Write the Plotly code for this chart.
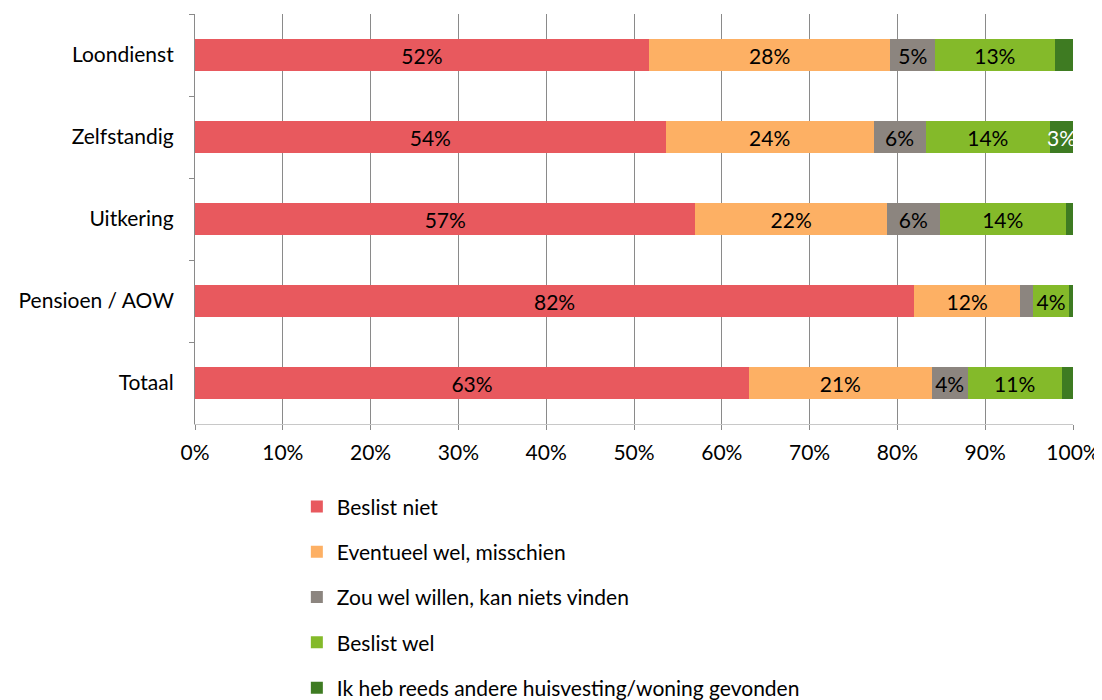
import plotly.graph_objects as go

categories = ["Loondienst", "Zelfstandig", "Uitkering", "Pensioen / AOW", "Totaal"]
series_names = [
    "Beslist niet",
    "Eventueel wel, misschien",
    "Zou wel willen, kan niets vinden",
    "Beslist wel",
    "Ik heb reeds andere huisvesting/woning gevonden",
]
beslist_niet = [51.7, 53.6, 57.0, 81.9, 63.1]
eventueel = [27.5, 23.7, 21.8, 12.1, 20.8]
zou_wel = [5.1, 5.9, 6.0, 1.5, 4.1]
beslist_wel = [13.6, 14.2, 14.4, 4.0, 10.7]
gevonden = [2.1, 2.6, 0.8, 0.5, 1.3]

# labels shown in the bars (blank where the chart shows none)
labels = [
    ["52%", "54%", "57%", "82%", "63%"],
    ["28%", "24%", "22%", "12%", "21%"],
    ["5%", "6%", "6%", "", "4%"],
    ["13%", "14%", "14%", "4%", "11%"],
    ["", "3%", "", "", ""],
]
colors = ["#E8595E", "#FDB064", "#8C857F", "#84BA2A", "#3E7B22"]
label_colors = ["black", "black", "black", "black", "white"]

FS = 21

fig = go.Figure()
for i, (name, vals) in enumerate(zip(series_names,
        [beslist_niet, eventueel, zou_wel, beslist_wel, gevonden])):
    fig.add_trace(go.Bar(
        y=categories, x=vals, name=name, orientation="h",
        marker=dict(color=colors[i], line=dict(width=0)),
        text=labels[i], textposition="inside", insidetextanchor="middle",
        textangle=0, textfont=dict(color=label_colors[i], size=FS),
        legendgroup=str(i), width=0.4, cliponaxis=False,
    ))

# page body adds an 8px margin, so shift everything by that
fig.update_layout(
    barmode="stack",
    width=1094, height=692,
    margin=dict(l=187, r=29, t=6, b=276, autoexpand=False),
    plot_bgcolor="white", paper_bgcolor="white",
    font=dict(family="Lato, Open Sans, sans-serif", size=FS, color="black"),
    uniformtext=dict(minsize=FS, mode="show"),
    legend=dict(x=0.116, y=-0.152, xanchor="left", yanchor="top",
                orientation="v", tracegroupgap=15, font=dict(size=FS),
                itemwidth=30),
    showlegend=True,
)
fig.update_xaxes(range=[0, 100], tickvals=list(range(0, 101, 10)),
                 ticktext=[f"{v}%" for v in range(0, 101, 10)],
                 showgrid=True, gridcolor="#8A8A8A", gridwidth=1,
                 showline=True, linecolor="#C8C8C8", zeroline=False,
                 ticks="outside", ticklen=5, tickcolor="#8A8A8A",
                 ticklabelstandoff=5, ticklabeloverflow="allow",
                 fixedrange=True)
fig.update_yaxes(categoryorder="array", categoryarray=categories,
                 autorange="reversed", tickson="boundaries", ticks="outside",
                 ticklen=5, tickcolor="#8A8A8A", showline=True,
                 linecolor="#8A8A8A", showgrid=False, ticksuffix="   ")

fig.write_html("out.html")
